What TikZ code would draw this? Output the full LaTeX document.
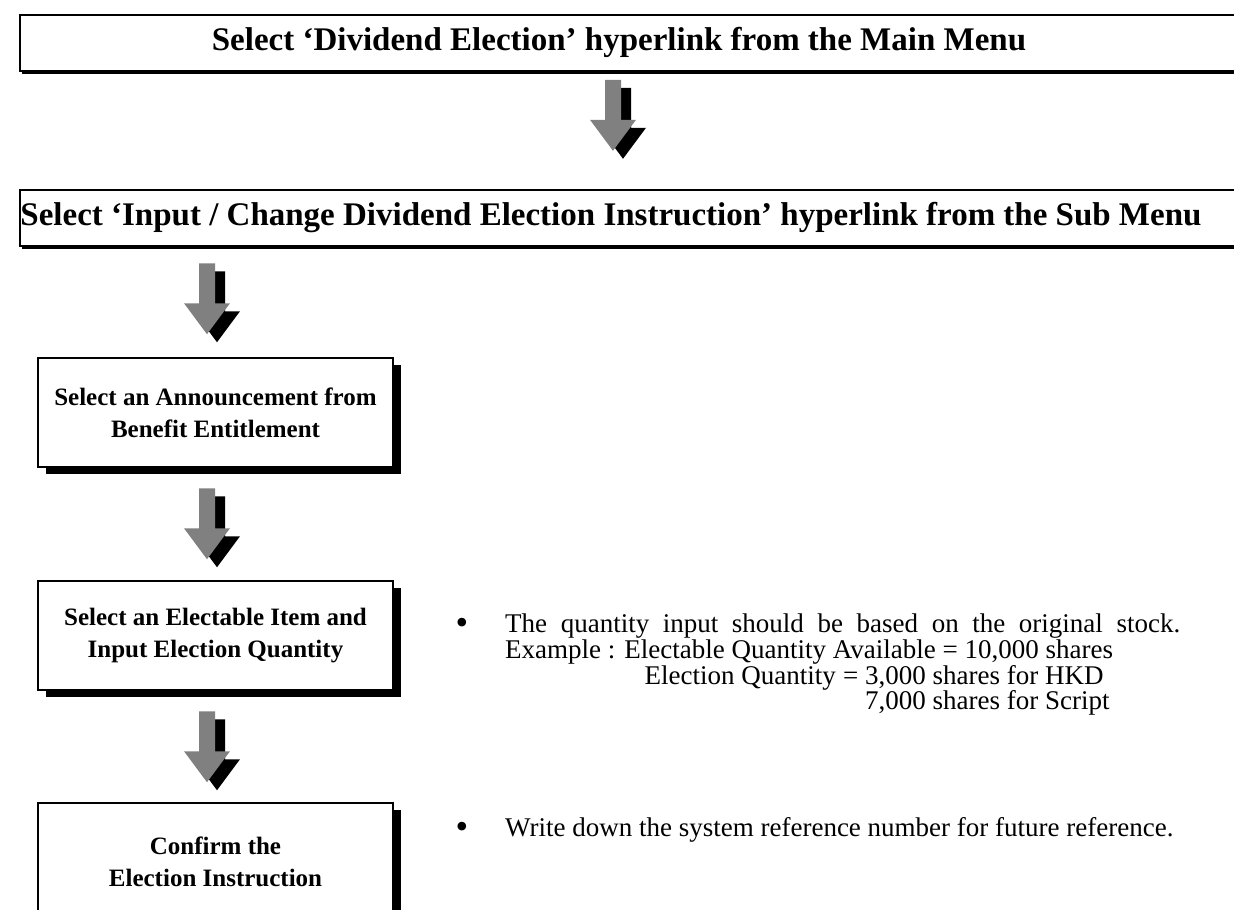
\documentclass[tikz,border=0pt]{standalone}
\usepackage{fontspec}
\setmainfont{Liberation Serif}
\usetikzlibrary{shadows,calc}
\definecolor{arrowgray}{HTML}{808080}
\begin{document}
\begin{tikzpicture}[x=1pt,y=-1pt,
  bigbox/.style={draw=black, line width=1.8pt, fill=white, anchor=north west, inner sep=0pt,
    minimum width=1250pt, minimum height=56pt,
    drop shadow={shadow xshift=2.5pt, shadow yshift=-3pt, fill=black, opacity=1}},
  titletext/.style={font=\fontsize{33}{38}\selectfont\bfseries, inner sep=0pt, anchor=base},
  smallbox/.style={draw=black, line width=1.5pt, fill=white, inner sep=0pt, align=center,
    minimum width=355pt,
    font=\fontsize{25}{32}\selectfont\bfseries,
    drop shadow={shadow xshift=8pt, shadow yshift=-7pt, fill=black, opacity=1}},
  bodytext/.style={font=\fontsize{27}{30}\selectfont, inner sep=0pt},
  bullettext/.style={font=\fontsize{36}{30}\selectfont, inner sep=0pt, anchor=base},
  fatarrow/.pic={
    \fill[black] (2,8) -- (18,8) -- (18,48) -- (33,48) -- (10,79) -- (-13,48) -- (2,48) -- cycle;
    \fill[arrowgray] (-8,0) -- (8,0) -- (8,40) -- (23,40) -- (0,71) -- (-23,40) -- (-8,40) -- cycle;
  }]
\useasboundingbox (0,0) rectangle (1234,910);
\clip (0,0) rectangle (1234,910);

% top boxes
\node[bigbox] (b1) at (19,14) {};
\node[titletext] (t1) at (619,50) {Select ‘Dividend Election’ hyperlink from the Main Menu};
\node[bigbox] (b2) at (19,189) {};
\node[titletext] (t2) at (611,225) {Select ‘Input / Change Dividend Election Instruction’ hyperlink from the Sub Menu};

% small boxes
\node[smallbox, minimum height=109pt] (b3) at (215.5,412.5) {Select an Announcement from\\Benefit Entitlement};
\node[smallbox, minimum height=109pt] (b4) at (215.5,635.5) {Select an Electable Item and\\Input Election Quantity};
\node[smallbox, minimum height=118pt] (b5) at (215.5,862) {Confirm the\\Election Instruction};

% arrows (connectors between the boxes)
\coordinate (a1) at ($(b1.south west)+(594,8)$);
\coordinate (a2) at ($(b3.north)+(-8.5,-94)$);
\coordinate (a3) at ($(b4.north)+(-8.5,-92)$);
\coordinate (a4) at ($(b5.north)+(-8.5,-91)$);
\pic at (a1) {fatarrow};
\pic at (a2) {fatarrow};
\pic at (a3) {fatarrow};
\pic at (a4) {fatarrow};

% notes
\node[bullettext] (bl1) at (462,634) {•};
\node[bodytext, anchor=base west] (n1) at (505,632) {\makebox[675pt][s]{The quantity input should be based on the original stock.}};
\node[bodytext, anchor=base west] (n2) at (505,658) {Example : Electable Quantity Available = 10,000 shares};
\node[bodytext, anchor=base east] (n3a) at (836,684) {Election Quantity};
\node[bodytext, anchor=base west] (n3b) at (843,684) {= 3,000 shares for HKD};
\node[bodytext, anchor=base west] (n4) at (865,709) {7,000 shares for Script};
\node[bullettext] (bl2) at (462,838) {•};
\node[bodytext, anchor=base west] (n5) at (505,836) {Write down the system reference number for future reference.};
\end{tikzpicture}
\end{document}
